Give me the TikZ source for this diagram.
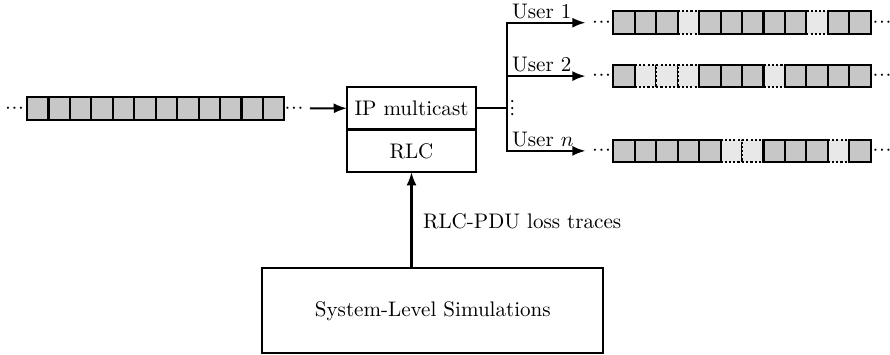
\documentclass[tikz,border=0pt]{standalone}
\usetikzlibrary{arrows.meta}
% three closely spaced centred dots
\newcommand\pdots{$\mathord{\cdot}\kern0.3pt\mathord{\cdot}\kern0.3pt\mathord{\cdot}$}
\begin{document}
\begin{tikzpicture}[x=0.4746pt,y=-0.4746pt,
  line width=1pt,
  pkt/.style={minimum width=10.18pt,minimum height=10.7pt,inner sep=0pt,outer sep=0pt},
  okpkt/.style={pkt,draw,fill=black!22},
  lostpkt/.style={pkt,draw,densely dotted,fill=black!9},
  layer/.style={draw,minimum width=61.2pt,minimum height=20.2pt,inner sep=0pt,outer sep=0pt},
  simbox/.style={draw,minimum width=161.8pt,minimum height=40.3pt,inner sep=0pt},
  dd/.style={inner sep=2.6pt},
  arr/.style={-{Latex[length=6.3pt,width=4.8pt]}},
  lbl/.style={inner sep=0pt,anchor=base west}]
\useasboundingbox (0,0) rectangle (890,355);

% a row of packets: lost ones (0) first, received ones (1) on top
\newcommand\pktrow[4]{%
  \foreach \s [count=\i] in {#4} {\ifnum\s=0 \node[lostpkt] (#1\i) at ({#2+21.45*(\i-0.5)},#3) {};\fi}
  \foreach \s [count=\i] in {#4} {\ifnum\s=1 \node[okpkt] (#1\i) at ({#2+21.45*(\i-0.5)},#3) {};\fi}
}

% incoming stream
\pktrow{in}{27}{108.4}{1,1,1,1,1,1,1,1,1,1,1,1}
\node[dd] (inl) at (14.5,108.4) {\pdots};
\node[dd] (inr) at (294,108.4) {\pdots};

% protocol stack
\node[layer] (ip) at (411.5,108.25) {IP multicast};
\node[layer,anchor=north] (rlc) at (ip.south) {RLC};

% system-level simulator feeding loss traces
\node[simbox] (sls) at (432.8,310.8) {System-Level Simulations};
\draw[arr] (rlc.south |- sls.north) -- (rlc.south);
\node[lbl] (trace) at (422,228.3) {RLC-PDU loss traces};

\draw[arr] (inr.east) -- (ip.west);

% multicast branching to the users
\coordinate (br) at (507,108.25);
\draw (ip.east) -- (br);

\node[dd] (o1l) at (601.5,22.7) {\pdots};
\node[dd] (o2l) at (601.5,76.1) {\pdots};
\node[dd] (onl) at (601.5,150.9) {\pdots};
\draw[arr] (br) |- (o1l.west);
\draw[arr] (br) |- (o2l.west);
\draw[arr] (br) |- (onl.west);

\node[lbl] (u1) at (511,18.5) {User 1};
\node[lbl] (u2) at (511,71.9) {User 2};
\node[lbl] (un) at (511,146.7) {User $n$};
\node[inner sep=0pt] (vd) at (513,108.3) {\rotatebox{90}{\pdots}};

% received streams per user
\pktrow{a}{613.3}{22.7}{1,1,1,0,1,1,1,1,1,0,1,1}
\pktrow{b}{613.3}{76.1}{1,0,0,0,1,1,1,0,1,1,1,1}
\pktrow{c}{613.3}{150.9}{1,1,1,1,1,0,0,1,1,1,0,1}
\node[dd] (o1r) at (882,22.7) {\pdots};
\node[dd] (o2r) at (882,76.1) {\pdots};
\node[dd] (onr) at (882,150.9) {\pdots};
\end{tikzpicture}
\end{document}
